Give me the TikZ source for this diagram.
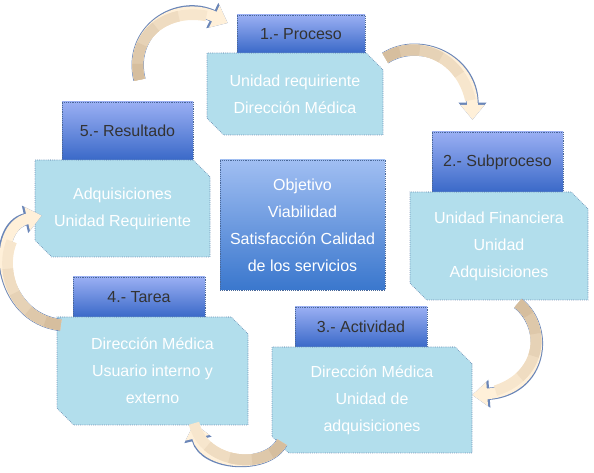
\documentclass[tikz,border=0pt]{standalone}
\usepackage{fontspec}
\setmainfont{Liberation Sans}
\usepackage{tikz}
\usetikzlibrary{arrows.meta,shapes.misc}
\definecolor{bodyfill}{HTML}{B2DEEC}
\definecolor{edgeblue}{HTML}{4A6898}
\definecolor{headtop}{HTML}{9AAFF3}
\definecolor{headbot}{HTML}{3A69C8}
\definecolor{goaltop}{HTML}{A0BEF2}
\definecolor{goalbot}{HTML}{3A77CD}
\definecolor{arrhead}{HTML}{FFF0D9}
\definecolor{arrtail}{HTML}{D6BE9E}
\definecolor{arredge}{HTML}{6A86B8}

\begin{document}
\begin{tikzpicture}[x=0.75pt, y=-0.75pt, font=\fontsize{12}{20.25}\selectfont,
  body/.style={chamfered rectangle, chamfered rectangle corners={north east,south west},
    chamfered rectangle xsep=9pt, draw=edgeblue, densely dotted, fill=bodyfill, text=white,
    align=center, inner sep=0pt},
  head/.style={rectangle, draw=edgeblue, densely dotted, top color=headtop, bottom color=headbot,
    text=black!80, inner sep=0pt},
  goal/.style={rectangle, draw=edgeblue, densely dotted, top color=goaltop, bottom color=goalbot,
    text=white, align=center, inner sep=0pt},
  band/.style 2 args={postaction={draw=arrtail!#1!arrhead, line width=8pt, arrows=-,
    dash pattern=on #2 off 900pt}},
  arr/.style={draw=arrhead, line width=8pt, -{Triangle[width=0pt 2.2, length=0pt 1.4]},
    preaction={draw=arredge, line width=9.2pt},
    band={20}{84pt}, band={40}{63pt}, band={60}{44pt}, band={80}{27pt}, band={100}{12pt}}]
\useasboundingbox (0,0) rectangle (594,473);
\node[head, minimum width=96pt, minimum height=28.5pt] (h1) at (301,34) {1.- Proceso};
\node[body, minimum width=132pt, minimum height=61.5pt] (b1) at (295,94) {Unidad requiriente\\Dirección Médica};
\node[head, minimum width=98.25pt, minimum height=45pt] (h2) at (497.5,162) {2.- Subproceso};
\node[body, minimum width=133.5pt, minimum height=81pt] (b2) at (499,246) {Unidad Financiera\\Unidad\\Adquisiciones};
\node[head, minimum width=99pt, minimum height=30pt] (h3) at (361,327) {3.- Actividad};
\node[body, minimum width=150pt, minimum height=79.5pt] (b3) at (372,400) {Dirección Médica\\Unidad de\\adquisiciones};
\node[head, minimum width=99pt, minimum height=30pt] (h4) at (139,297) {4.- Tarea};
\node[body, minimum width=143.25pt, minimum height=81pt] (b4) at (152.5,371) {Dirección Médica\\Usuario interno y\\externo};
\node[head, minimum width=98.25pt, minimum height=43.5pt] (h5) at (127.5,131) {5.- Resultado};
\node[body, minimum width=131.25pt, minimum height=72.75pt] (b5) at (122.5,208.5) {Adquisiciones\\Unidad Requiriente};
\node[goal, minimum width=123.75pt, minimum height=97.5pt] (obj) at (302.5,225) {Objetivo\\Viabilidad\\Satisfacción Calidad\\de los servicios};
\draw[arr] ([shift={(12,-22)}]h5.north) .. controls +(-12,-50) and +(-50,-24) .. ([shift={(-9,-11)}]h1.west);
\draw[arr] ([shift={(2,-36)}]b1.east) .. controls +(35,-22) and +(0,-60) .. ([shift={(-25,-12)}]h2.north);
\draw[arr] ([shift={(19,3)}]b2.south) .. controls +(32,25) and +(70,-5) .. ([shift={(0,-5)}]b3.east);
\draw[arr] ([shift={(-90,-11)}]b3.south) .. controls +(-15,28) and +(10,42) .. ([shift={(41.5,-2)}]b4.south);
\draw[arr] ([shift={(4,-46)}]b4.west) .. controls +(-63,-7) and +(-52,12) .. ([shift={(7,7)}]b5.west);
\end{tikzpicture}
\end{document}
